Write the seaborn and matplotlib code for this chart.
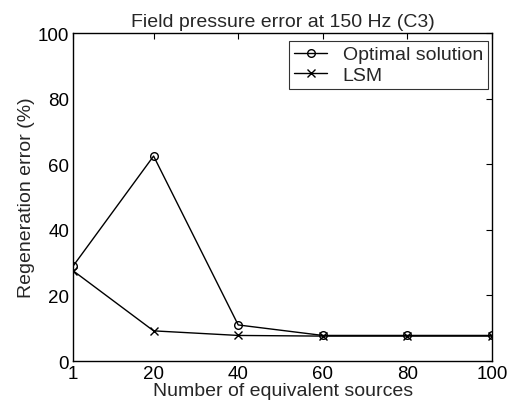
import matplotlib
matplotlib.use("Agg")
import matplotlib.pyplot as plt
import seaborn as sns
import pandas as pd

sources = [1, 20, 40, 60, 80, 100]
optimal = [29.0, 62.5, 11.0, 7.8, 7.8, 7.8]
lsm = [27.5, 9.2, 7.8, 7.6, 7.6, 7.6]
xticks = [1, 20, 40, 60, 80, 100]
yticks = [0, 20, 40, 60, 80, 100]

sns.set_theme(style="white")
plt.rcParams['font.family'] = ['Liberation Sans', 'DejaVu Sans']

df_opt = pd.DataFrame({"x": sources, "y": optimal})
df_lsm = pd.DataFrame({"x": sources, "y": lsm})

fig = plt.figure(figsize=(5.12, 4.10), dpi=100)
ax = fig.add_axes([0.143, 0.117, 0.818, 0.800])

sns.lineplot(data=df_opt, x="x", y="y", color="black", marker="o",
             linewidth=1.0, markersize=5.5, markerfacecolor="none",
             markeredgecolor="black", markeredgewidth=1.0, ax=ax,
             label="Optimal solution")
sns.lineplot(data=df_lsm, x="x", y="y", color="black", marker="x",
             linewidth=1.0, markersize=5.5,
             markeredgecolor="black", markeredgewidth=1.0, ax=ax,
             label="LSM")

leg = ax.legend(loc="upper right", bbox_to_anchor=(0.99, 0.976),
                fontsize=14, frameon=True, fancybox=False,
                edgecolor="black", handlelength=1.7, handletextpad=0.8,
                borderpad=0.25, labelspacing=0.15, borderaxespad=0.0)
leg.get_frame().set_linewidth(0.8)

ax.set_xlim(1, 100)
ax.set_ylim(0, 100)
ax.set_xticks(xticks)
ax.set_yticks(yticks)
ax.tick_params(direction="in", length=4, width=0.8, labelsize=13.5,
               top=True, right=True, colors="black", pad=3)
for s in ax.spines.values():
    s.set_color("black")
    s.set_linewidth(1.0)
ax.set_xlabel("Number of equivalent sources", fontsize=14, labelpad=0)
ax.set_ylabel("Regeneration error (%)", fontsize=14, labelpad=2)
ax.set_title("Field pressure error at 150 Hz (C3)", fontsize=14, pad=5)

fig.savefig("out.png", dpi=100)
